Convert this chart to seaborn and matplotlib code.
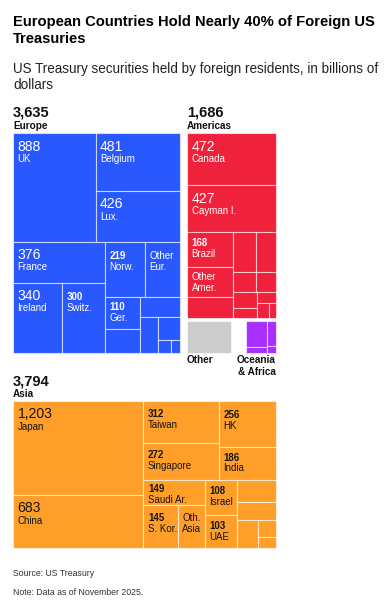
import numpy as np
import matplotlib
matplotlib.use('Agg')
import matplotlib.pyplot as plt
from matplotlib.patches import Rectangle
import seaborn as sns

# ── Data: US Treasuries held abroad, billions of dollars ─────
europe_names = ['UK', 'Belgium', 'Lux.', 'France', 'Ireland', 'Switz.', 'Norw.',
                'Other Eur.', 'Ger.', '', '', '', '', '', '']
europe_values = [888, 481, 426, 376, 340, 300, 219, 192, 110, 81, 81, 65, 50, 15, 11]

americas_names = ['Canada', 'Cayman I.', 'Brazil', 'Other Amer.',
                  '', '', '', '', '', '', '', '', '', '']
americas_values = [472, 427, 168, 143, 100, 92, 82, 46, 41, 41, 25, 20, 18, 11]

asia_names = ['Japan', 'China', 'Taiwan', 'Singapore', 'HK', 'India', 'Saudi Ar.',
              'S. Kor.', 'Oth. Asia', 'Israel', 'UAE', '', '', '', '', '']
asia_values = [1203, 683, 312, 272, 256, 186, 149, 145, 117, 108, 103,
               84, 68, 60, 29, 19]

other_values = [140]
oceania_values = [55, 11]
africa_values = [21, 6]

title_lines = ['European Countries Hold Nearly 40% of Foreign US', 'Treasuries']
subtitle_lines = ['US Treasury securities held by foreign residents, in billions of',
                  'dollars']
source_text = 'Source: US Treasury'
note_text = 'Note: Data as of November 2025.'

# ── Style ────────────────────────────────────────────────────
sns.set_theme(style='white')
plt.rcParams['font.family'] = ['Liberation Sans', 'DejaVu Sans']
blue, red, orange, purple, grey = sns.color_palette(
    ['#2a58ff', '#f0213a', '#ff9f29', '#a82fff', '#cccccc'])
EDGE = (1, 1, 1, 0.6)
PX = 0.72  # points per pixel at dpi 100

# group frames in pixel coordinates (x0, y0, x1, y1)
frame_europe = (13, 133.3, 180, 352.5)
frame_americas = (187, 133.3, 275.5, 318.3)
frame_other = (187, 321, 231, 352.7)
frame_oceania = (245.7, 321, 275.5, 352.7)
frame_asia = (13, 401, 275.5, 548.3)


def binary_layout(values, x0, y0, x1, y1):
    # d3-style binary treemap: split into halves of near-equal value
    sums = np.concatenate([[0], np.cumsum(values)]).astype(float)
    rects = [None] * len(values)

    def part(i, j, value, x0, y0, x1, y1):
        if i >= j - 1:
            rects[i] = (x0, y0, x1, y1)
            return
        target = value / 2 + sums[i]
        k, hi = i + 1, j - 1
        while k < hi:
            mid = (k + hi) // 2
            if sums[mid] < target:
                k = mid + 1
            else:
                hi = mid
        if target - sums[k - 1] < sums[k] - target and i + 1 < k:
            k -= 1
        vl = sums[k] - sums[i]
        vr = value - vl
        if (x1 - x0) > (y1 - y0):
            xk = (x0 * vr + x1 * vl) / value
            part(i, k, vl, x0, y0, xk, y1)
            part(k, j, vr, xk, y0, x1, y1)
        else:
            yk = (y0 * vr + y1 * vl) / value
            part(i, k, vl, x0, y0, x1, yk)
            part(k, j, vr, x0, yk, x1, y1)

    part(0, len(values), sums[-1], x0, y0, x1, y1)
    return rects


fig = plt.figure(figsize=(3.91, 6.0), dpi=100)
ax = fig.add_axes([0, 0, 1, 1])
ax.set_xlim(0, 391)
ax.set_ylim(600, 0)
ax.axis('off')


def draw_cells(values, names, frame, color, tcolor):
    rects = binary_layout(values, *frame)
    for v, name, (x0, y0, x1, y1) in zip(values, names, rects):
        ax.add_patch(Rectangle((x0, y0), x1 - x0, y1 - y0, facecolor=color,
                               edgecolor=EDGE, lw=0.8))
        if not name:
            continue
        h = y1 - y0
        big = v >= 330
        if big:
            base = y0 + 17.5
        else:
            base = y0 + np.clip(0.25 * h - 1.5, 3, 10.5) + 7
        tx = x0 + 4.5
        if name.startswith('Oth'):
            first, second = name.split(' ', 1)
            ax.text(tx, base, first, fontsize=9.8 * PX, color=tcolor, va='baseline')
            ax.text(tx, base + 10.7, second, fontsize=9.8 * PX, color=tcolor,
                    va='baseline')
        else:
            ax.text(tx, base, f'{v:,}', fontsize=(14 if big else 9.8) * PX,
                    fontweight='normal' if big else 'bold', color=tcolor,
                    va='baseline')
            ax.text(tx, base + (11.3 if big else 10.7), name, fontsize=9.8 * PX,
                    color=tcolor, va='baseline')


def group_header(x, y, total, label):
    ax.text(x, y, f'{total:,}', fontsize=14.6 * PX, fontweight='bold',
            color='#111111', va='baseline')
    ax.text(x, y + 12, label, fontsize=10 * PX, fontweight='bold',
            color='#111111', va='baseline')


# ── Treemap groups ───────────────────────────────────────────
draw_cells(europe_values, europe_names, frame_europe, blue, 'white')
group_header(13, 116.7, sum(europe_values), 'Europe')

draw_cells(americas_values, americas_names, frame_americas, red, 'white')
group_header(187, 116.7, sum(americas_values), 'Americas')

draw_cells(asia_values, asia_names, frame_asia, orange, '#141414')
group_header(13, 385, sum(asia_values), 'Asia')

draw_cells(other_values, [''], frame_other, grey, 'white')

# Oceania & Africa: two sub-groups side by side
ox0, oy0, ox1, oy1 = frame_oceania
split = ox0 + (ox1 - ox0) * sum(oceania_values) / (sum(oceania_values) + sum(africa_values))
draw_cells(oceania_values, ['', ''], (ox0, oy0, split, oy1), purple, 'white')
draw_cells(africa_values, ['', ''], (split, oy0, ox1, oy1), purple, 'white')

ax.text(187, 363, 'Other', fontsize=10 * PX, fontweight='bold',
        color='#111111', va='baseline')
ax.text(275.5, 363, 'Oceania', fontsize=10 * PX, fontweight='bold',
        color='#111111', va='baseline', ha='right')
ax.text(275.5, 375, '& Africa', fontsize=10 * PX, fontweight='bold',
        color='#111111', va='baseline', ha='right')

# ── Titles and footnotes ─────────────────────────────────────
for i, line in enumerate(title_lines):
    ax.text(13, 26 + 16.7 * i, line, fontsize=14.8 * PX, fontweight='bold',
            color='black', va='baseline')
for i, line in enumerate(subtitle_lines):
    ax.text(13, 73.3 + 16 * i, line, fontsize=13.5 * PX, color='#222222',
            va='baseline')

ax.text(13, 576.5, source_text, fontsize=8.8 * PX, color='#333333', va='baseline')
ax.text(13, 595, note_text, fontsize=8.8 * PX, color='#333333', va='baseline')

fig.savefig('out.png', dpi=100)
